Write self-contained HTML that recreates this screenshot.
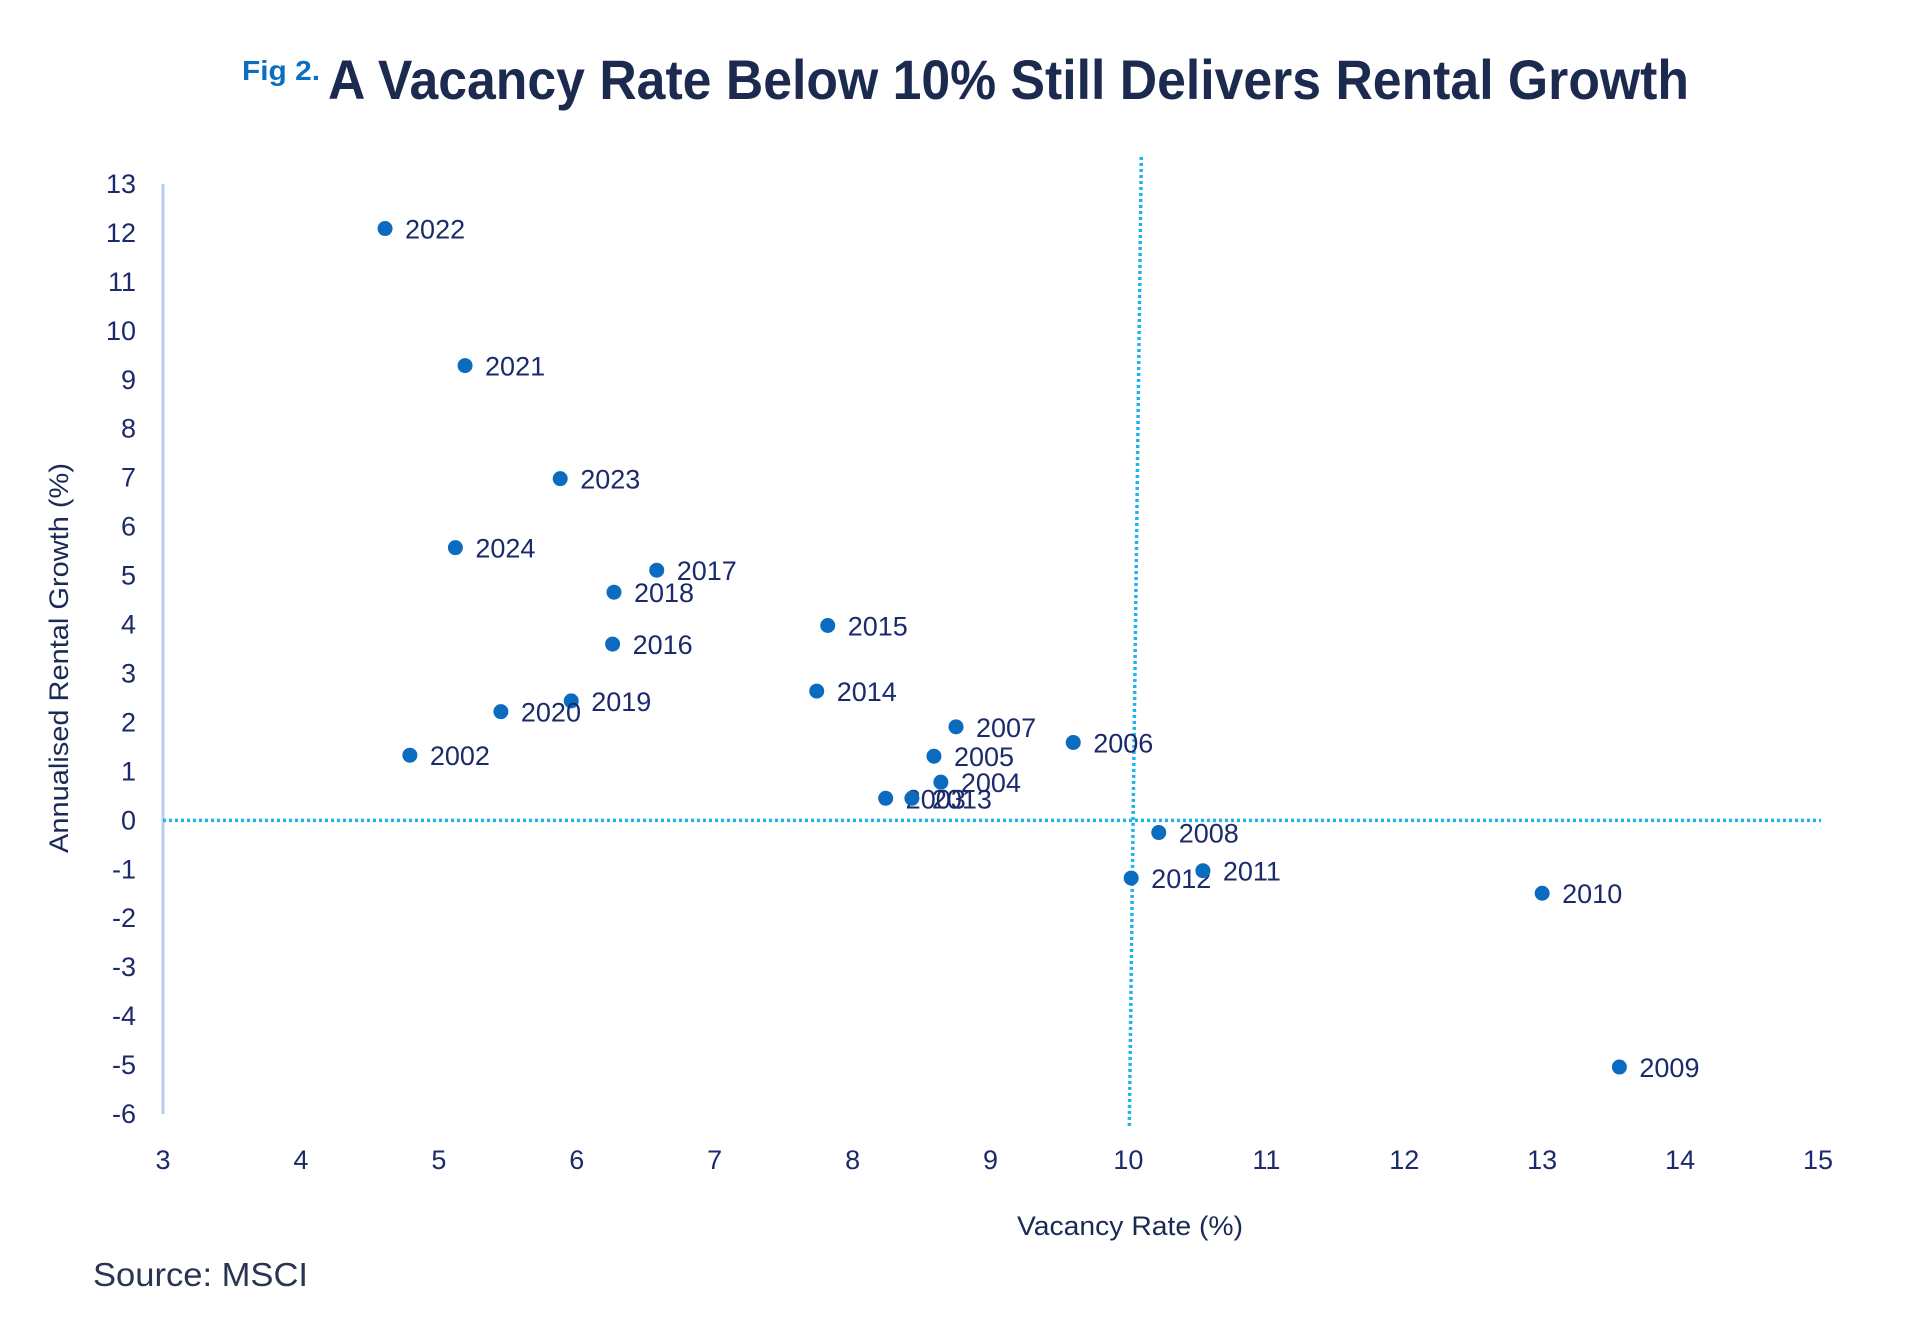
<!DOCTYPE html>
<html><head><meta charset="utf-8"><style>
html,body{margin:0;padding:0;background:#fff;}
svg{display:block;font-family:"Liberation Sans",sans-serif;}
</style></head><body>
<svg id="chart" width="1920" height="1326" viewBox="0 0 1920 1326">
<text x="242" y="80" font-size="28" fill="#0a6fc2" font-weight="bold" textLength="78" lengthAdjust="spacingAndGlyphs">Fig 2.</text>
<text x="328" y="99" font-size="56" fill="#1b2a4e" font-weight="bold" textLength="1361" lengthAdjust="spacingAndGlyphs">A Vacancy Rate Below 10% Still Delivers Rental Growth</text>
<g id="axes"></g>
<g id="marks"></g>
<text x="1130" y="1235" font-size="27" fill="#1b2a55" text-anchor="middle" textLength="226" lengthAdjust="spacingAndGlyphs">Vacancy Rate (%)</text>
<text transform="translate(68,658) rotate(-90)" font-size="27" fill="#1b2a55" text-anchor="middle" textLength="390" lengthAdjust="spacingAndGlyphs">Annualised Rental Growth (%)</text>
<text x="93" y="1286" font-size="33" fill="#2a3552" textLength="215" lengthAdjust="spacingAndGlyphs">Source: MSCI</text>
</svg>
<script>
const years = ["2022","2021","2023","2024","2017","2018","2016","2015","2014","2019","2020","2002","2007","2006","2005","2004","2003","2013","2008","2012","2011","2010","2009"];
const vacancy = [4.61,5.19,5.88,5.12,6.58,6.27,6.26,7.82,7.74,5.96,5.45,4.79,8.75,9.60,8.59,8.64,8.24,8.43,10.22,10.02,10.54,13.00,13.56];
const growth = [12.09,9.29,6.98,5.57,5.11,4.66,3.60,3.98,2.64,2.44,2.22,1.33,1.91,1.59,1.31,0.78,0.45,0.45,-0.25,-1.18,-1.03,-1.49,-5.04];
const xTicks = [3,4,5,6,7,8,9,10,11,12,13,14,15];
const yTicks = [13,12,11,10,9,8,7,6,5,4,3,2,1,0,-1,-2,-3,-4,-5,-6];
const xThreshold = 10.05;
const yThreshold = 0;

const NS = "http://www.w3.org/2000/svg";
const X0 = 163, X1 = 1818, Y0 = 1114, Y1 = 184;
function sx(v){ return X0 + (v - 3) / 12 * (X1 - X0); }
function sy(v){ return Y0 - (v + 6) / 19 * (Y0 - Y1); }
function mk(tag, attrs, parent){ const e = document.createElementNS(NS, tag); for (const k in attrs) e.setAttribute(k, attrs[k]); parent.appendChild(e); return e; }
const axes = document.getElementById('axes');
const marks = document.getElementById('marks');

const yLine = mk('line', {x1: X0, x2: X0, y1: Y1, y2: Y0, stroke: '#b9cdf0', 'stroke-width': 3}, axes);



xTicks.forEach(t => {
  const e = mk('text', {x: sx(t), y: 1169, 'font-size': 27, fill: '#1b2a6b', 'text-anchor': 'middle'}, axes);
  e.textContent = t;
  
  
});
yTicks.forEach(t => {
  const e = mk('text', {x: 136, y: sy(t) + 9, 'font-size': 27, fill: '#1b2a6b', 'text-anchor': 'end'}, axes);
  e.textContent = t;
  
  
});

const hRef = mk('line', {x1: X0, x2: X1 + 3, y1: sy(yThreshold), y2: sy(yThreshold), stroke: '#1eb4ee', 'stroke-width': 3.5, 'stroke-dasharray': '3 3'}, axes);


const vRef = mk('line', {x1: sx(xThreshold) + 6, x2: sx(xThreshold) - 6, y1: 157, y2: 1126, stroke: '#1eb4ee', 'stroke-width': 3.5, 'stroke-dasharray': '3 3'}, axes);



years.forEach((y, i) => {
  const cx = sx(vacancy[i]), cy = sy(growth[i]);
  const c = mk('circle', {cx: cx, cy: cy, r: 7.5, fill: '#0b6bbf'}, marks);
  
  
  const t = mk('text', {x: cx + 20, y: cy + 10, 'font-size': 27, fill: '#1b2a6b'}, marks);
  t.textContent = y;
  
  
});
</script>
</body></html>
